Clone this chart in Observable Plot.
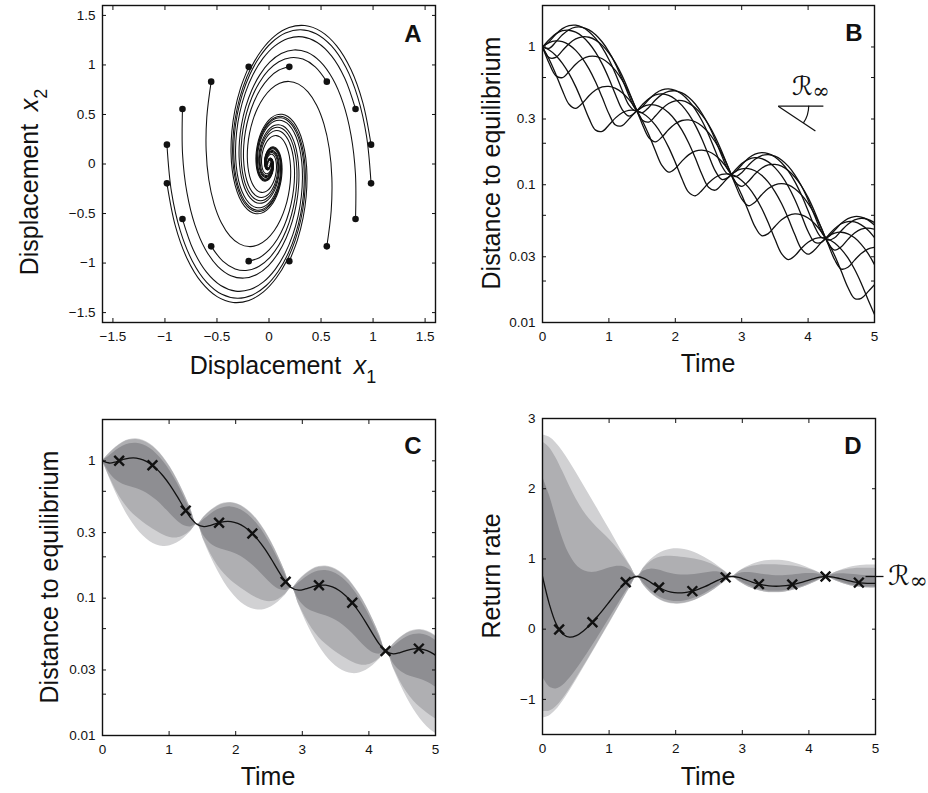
<!DOCTYPE html>
<html><head><meta charset="utf-8">
<script src="https://cdn.jsdelivr.net/npm/d3@7"></script>
<script src="https://cdn.jsdelivr.net/npm/@observablehq/plot@0.6"></script>
<style>
body{margin:0;background:#fff;}
#wrap{position:relative;width:928px;height:793px;overflow:hidden;background:#fff;}
</style></head><body><div id="wrap"></div>
<script>
// ---------------- DATA ----------------
// Panel A/B: 8 trajectories from the right-hand starting points (t = 0..5 step 0.1)
const tTraj = [0,0.1,0.2,0.3,0.4,0.5,0.6,0.7,0.8,0.9,1,1.1,1.2,1.3,1.4,1.5,1.6,1.7,1.8,1.9,2,2.1,2.2,2.3,2.4,2.5,2.6,2.7,2.8,2.9,3,3.1,3.2,3.3,3.4,3.5,3.6,3.7,3.8,3.9,4,4.1,4.2,4.3,4.4,4.5,4.6,4.7,4.8,4.9,5];
const trajX = [
[0.1951,0.2736,0.3275,0.3573,0.3649,0.3532,0.3253,0.2849,0.2358,0.1817,0.1259,0.0716,0.0212,-0.0232,-0.0603,-0.0891,-0.1095,-0.1215,-0.1257,-0.1230,-0.1145,-0.1014,-0.0850,-0.0666,-0.0475,-0.0286,-0.0108,0.0049,0.0182,0.0288,0.0364,0.0412,0.0432,0.0427,0.0402,0.0360,0.0306,0.0243,0.0178,0.0112,0.0050,-0.0006,-0.0054,-0.0092,-0.0121,-0.0139,-0.0148,-0.0148,-0.0141,-0.0127,-0.0109],
[0.5556,0.5977,0.6040,0.5789,0.5281,0.4579,0.3744,0.2836,0.1913,0.1021,0.0202,-0.0513,-0.1102,-0.1554,-0.1864,-0.2038,-0.2085,-0.2020,-0.1862,-0.1633,-0.1353,-0.1045,-0.0727,-0.0416,-0.0128,0.0127,0.0339,0.0506,0.0623,0.0693,0.0718,0.0703,0.0655,0.0581,0.0488,0.0383,0.0274,0.0166,0.0065,-0.0026,-0.0103,-0.0163,-0.0207,-0.0235,-0.0247,-0.0244,-0.0230,-0.0207,-0.0175,-0.0140,-0.0103],
[0.8315,0.8309,0.7885,0.7123,0.6109,0.4928,0.3664,0.2391,0.1175,0.0070,-0.0885,-0.1663,-0.2249,-0.2639,-0.2842,-0.2874,-0.2757,-0.2517,-0.2185,-0.1788,-0.1357,-0.0917,-0.0492,-0.0102,0.0239,0.0520,0.0736,0.0885,0.0969,0.0992,0.0962,0.0888,0.0780,0.0646,0.0500,0.0349,0.0200,0.0062,-0.0059,-0.0160,-0.0239,-0.0296,-0.0329,-0.0342,-0.0335,-0.0312,-0.0277,-0.0233,-0.0183,-0.0131,-0.0079],
[0.9808,0.9375,0.8530,0.7373,0.6006,0.4528,0.3027,0.1582,0.0259,-0.0892,-0.1838,-0.2560,-0.3052,-0.3323,-0.3387,-0.3273,-0.3010,-0.2632,-0.2174,-0.1670,-0.1153,-0.0649,-0.0183,0.0227,0.0569,0.0834,0.1021,0.1130,0.1168,0.1141,0.1060,0.0937,0.0784,0.0613,0.0435,0.0260,0.0096,-0.0050,-0.0173,-0.0270,-0.0340,-0.0383,-0.0401,-0.0397,-0.0373,-0.0333,-0.0282,-0.0224,-0.0163,-0.0102,-0.0044],
[0.9808,0.9014,0.7877,0.6501,0.4989,0.3438,0.1929,0.0533,-0.0696,-0.1718,-0.2511,-0.3067,-0.3392,-0.3500,-0.3417,-0.3174,-0.2805,-0.2346,-0.1832,-0.1298,-0.0774,-0.0283,0.0154,0.0522,0.0813,0.1022,0.1150,0.1203,0.1188,0.1116,0.0996,0.0844,0.0670,0.0487,0.0304,0.0132,-0.0022,-0.0155,-0.0261,-0.0339,-0.0389,-0.0412,-0.0412,-0.0391,-0.0353,-0.0302,-0.0244,-0.0181,-0.0118,-0.0058,-0.0003],
[0.8315,0.7281,0.6023,0.4638,0.3213,0.1824,0.0536,-0.0599,-0.1545,-0.2282,-0.2802,-0.3108,-0.3215,-0.3145,-0.2926,-0.2591,-0.2172,-0.1702,-0.1212,-0.0729,-0.0276,0.0127,0.0468,0.0738,0.0933,0.1054,0.1104,0.1093,0.1028,0.0920,0.0781,0.0622,0.0454,0.0286,0.0128,-0.0015,-0.0138,-0.0237,-0.0309,-0.0356,-0.0378,-0.0379,-0.0360,-0.0326,-0.0280,-0.0226,-0.0169,-0.0111,-0.0055,-0.0005,0.0039],
[0.5556,0.4439,0.3254,0.2071,0.0948,-0.0067,-0.0936,-0.1638,-0.2159,-0.2499,-0.2666,-0.2675,-0.2549,-0.2312,-0.1990,-0.1614,-0.1209,-0.0800,-0.0407,-0.0048,0.0263,0.0517,0.0710,0.0841,0.0910,0.0925,0.0890,0.0816,0.0711,0.0585,0.0447,0.0305,0.0168,0.0042,-0.0069,-0.0161,-0.0232,-0.0282,-0.0310,-0.0319,-0.0311,-0.0288,-0.0254,-0.0211,-0.0164,-0.0116,-0.0068,-0.0024,0.0016,0.0050,0.0075],
[0.1951,0.0921,-0.0011,-0.0813,-0.1463,-0.1948,-0.2267,-0.2428,-0.2445,-0.2335,-0.2125,-0.1835,-0.1494,-0.1126,-0.0751,-0.0391,-0.0062,0.0225,0.0460,0.0640,0.0761,0.0829,0.0845,0.0816,0.0750,0.0655,0.0541,0.0415,0.0286,0.0161,0.0044,-0.0057,-0.0142,-0.0209,-0.0255,-0.0282,-0.0291,-0.0285,-0.0264,-0.0234,-0.0195,-0.0152,-0.0108,-0.0064,-0.0024,0.0013,0.0043,0.0067,0.0085,0.0096,0.0101]
];
const trajY = [
[-0.9808,-0.7668,-0.5441,-0.3249,-0.1199,0.0625,0.2164,0.3380,0.4257,0.4796,0.5019,0.4959,0.4656,0.4163,0.3527,0.2803,0.2039,0.1278,0.0559,-0.0088,-0.0640,-0.1083,-0.1411,-0.1621,-0.1720,-0.1719,-0.1632,-0.1474,-0.1265,-0.1021,-0.0759,-0.0496,-0.0244,-0.0015,0.0183,0.0344,0.0465,0.0546,0.0588,0.0595,0.0571,0.0521,0.0452,0.0370,0.0281,0.0190,0.0102,0.0021,-0.0050,-0.0108,-0.0153],
[-0.8315,-0.4714,-0.1377,0.1565,0.4017,0.5926,0.7271,0.8063,0.8338,0.8154,0.7587,0.6716,0.5628,0.4409,0.3136,0.1884,0.0711,-0.0334,-0.1216,-0.1916,-0.2420,-0.2733,-0.2865,-0.2834,-0.2665,-0.2385,-0.2023,-0.1611,-0.1175,-0.0740,-0.0328,0.0042,0.0358,0.0614,0.0801,0.0923,0.0982,0.0983,0.0934,0.0844,0.0725,0.0586,0.0437,0.0287,0.0143,0.0012,-0.0102,-0.0194,-0.0264,-0.0311,-0.0336],
[-0.5556,-0.1041,0.2896,0.6140,0.8623,1.0326,1.1271,1.1518,1.1150,1.0272,0.9000,0.7451,0.5743,0.3984,0.2268,0.0679,-0.0724,-0.1895,-0.2808,-0.3452,-0.3832,-0.3967,-0.3883,-0.3615,-0.3202,-0.2687,-0.2107,-0.1502,-0.0905,-0.0346,0.0152,0.0573,0.0907,0.1148,0.1298,0.1362,0.1349,0.1269,0.1136,0.0966,0.0770,0.0562,0.0356,0.0159,-0.0017,-0.0169,-0.0290,-0.0380,-0.0439,-0.0467,-0.0468],
[-0.1951,0.2789,0.6729,0.9780,1.1916,1.3153,1.3555,1.3219,1.2265,1.0825,0.9042,0.7051,0.4983,0.2952,0.1055,-0.0631,-0.2050,-0.3168,-0.3971,-0.4462,-0.4660,-0.4596,-0.4310,-0.3846,-0.3253,-0.2579,-0.1870,-0.1164,-0.0499,0.0099,0.0610,0.1017,0.1317,0.1509,0.1598,0.1594,0.1511,0.1363,0.1167,0.0940,0.0697,0.0452,0.0220,0.0007,-0.0175,-0.0323,-0.0434,-0.0508,-0.0547,-0.0552,-0.0529],
[0.1951,0.6195,0.9537,1.1932,1.3393,1.3977,1.3776,1.2909,1.1512,0.9731,0.7707,0.5578,0.3464,0.1471,-0.0320,-0.1844,-0.3063,-0.3959,-0.4530,-0.4794,-0.4780,-0.4526,-0.4080,-0.3491,-0.2808,-0.2080,-0.1347,-0.0649,-0.0016,0.0531,0.0973,0.1306,0.1527,0.1639,0.1654,0.1584,0.1443,0.1249,0.1020,0.0770,0.0518,0.0274,0.0050,-0.0145,-0.0306,-0.0429,-0.0513,-0.0559,-0.0571,-0.0553,-0.0509],
[0.5556,0.8658,1.0894,1.2268,1.2833,1.2674,1.1899,1.0632,0.9007,0.7154,0.5200,0.3255,0.1418,-0.0235,-0.1645,-0.2777,-0.3611,-0.4147,-0.4399,-0.4395,-0.4170,-0.3767,-0.3230,-0.2605,-0.1937,-0.1263,-0.0620,-0.0035,0.0469,0.0881,0.1190,0.1397,0.1504,0.1521,0.1459,0.1332,0.1155,0.0945,0.0717,0.0484,0.0259,0.0053,-0.0127,-0.0276,-0.0390,-0.0469,-0.0513,-0.0525,-0.0508,-0.0469,-0.0412],
[0.8315,0.9804,1.0591,1.0735,1.0319,0.9442,0.8210,0.6738,0.5131,0.3490,0.1901,0.0438,-0.0844,-0.1903,-0.2720,-0.3286,-0.3608,-0.3703,-0.3599,-0.3328,-0.2927,-0.2435,-0.1888,-0.1322,-0.0769,-0.0255,0.0201,0.0584,0.0884,0.1097,0.1225,0.1275,0.1253,0.1170,0.1041,0.0877,0.0692,0.0497,0.0305,0.0124,-0.0037,-0.0175,-0.0285,-0.0365,-0.0415,-0.0437,-0.0435,-0.0411,-0.0369,-0.0315,-0.0252],
[0.9808,0.9455,0.8676,0.7568,0.6233,0.4771,0.3272,0.1817,0.0473,-0.0707,-0.1688,-0.2446,-0.2976,-0.3283,-0.3381,-0.3295,-0.3056,-0.2696,-0.2250,-0.1754,-0.1238,-0.0731,-0.0258,0.0161,0.0514,0.0793,0.0992,0.1113,0.1163,0.1147,0.1074,0.0958,0.0810,0.0641,0.0464,0.0288,0.0123,-0.0026,-0.0153,-0.0255,-0.0329,-0.0376,-0.0399,-0.0398,-0.0377,-0.0339,-0.0291,-0.0234,-0.0173,-0.0112,-0.0054]
];

// Panels C/D: time grid and envelope values
const tGrid = [0,0.1015,0.2031,0.3046,0.4062,0.5077,0.6092,0.7108,0.8123,0.9138,1.0154,1.1169,1.2185,1.3200,1.4215,1.5231,1.6246,1.7262,1.8277,1.9292,2.0308,2.1323,2.2338,2.3354,2.4369,2.5385,2.6400,2.7415,2.8431,2.9446,3.0462,3.1477,3.2492,3.3508,3.4523,3.5538,3.6554,3.7569,3.8585,3.9600,4.0615,4.1631,4.2646,4.3662,4.4677,4.5692,4.6708,4.7723,4.8738,4.9754,5.0769];
const cMin = [1,0.75744,0.58363,0.46284,0.37978,0.32286,0.28423,0.25896,0.24408,0.23808,0.24049,0.25168,0.27252,0.30372,0.34434,0.26081,0.20097,0.15937,0.13077,0.11117,0.09787,0.08917,0.08405,0.08198,0.08281,0.08666,0.09384,0.10458,0.11857,0.08981,0.06920,0.05488,0.04503,0.03828,0.03370,0.03070,0.02894,0.02823,0.02851,0.02984,0.03231,0.03601,0.04083,0.03092,0.02383,0.01890,0.01551,0.01318,0.01160,0.01057,0.00997];
const cQ10 = [1,0.76885,0.60939,0.50476,0.43689,0.39099,0.35709,0.32968,0.30664,0.28832,0.27665,0.27447,0.28455,0.30830,0.34434,0.26474,0.20983,0.17381,0.15044,0.13463,0.12296,0.11352,0.10559,0.09928,0.09526,0.09451,0.09798,0.10616,0.11857,0.09116,0.07225,0.05985,0.05180,0.04636,0.04234,0.03909,0.03636,0.03419,0.03280,0.03254,0.03374,0.03655,0.04083,0.03139,0.02488,0.02061,0.01784,0.01596,0.01458,0.01346,0.01252];
const cQ25 = [1,0.82337,0.72424,0.67601,0.65064,0.62873,0.60035,0.56229,0.51553,0.46363,0.41200,0.36759,0.33818,0.33016,0.34434,0.28352,0.24938,0.23277,0.22404,0.21649,0.20672,0.19362,0.17752,0.15964,0.14187,0.12657,0.11645,0.11369,0.11857,0.09763,0.08587,0.08015,0.07714,0.07455,0.07118,0.06667,0.06113,0.05497,0.04885,0.04358,0.04010,0.03915,0.04083,0.03362,0.02957,0.02760,0.02656,0.02567,0.02451,0.02296,0.02105];
const cMed = [1,0.96411,0.98414,1.02130,1.04744,1.04786,1.01759,0.95791,0.87383,0.77270,0.66327,0.55535,0.45954,0.38659,0.34434,0.33198,0.33887,0.35167,0.36067,0.36082,0.35039,0.32984,0.30089,0.26607,0.22839,0.19123,0.15824,0.13312,0.11857,0.11431,0.11669,0.12109,0.12419,0.12424,0.12065,0.11358,0.10361,0.09162,0.07864,0.06585,0.05449,0.04584,0.04083,0.03936,0.04018,0.04170,0.04276,0.04278,0.04155,0.03911,0.03568];
const cQ75 = [1,1.08678,1.18850,1.27637,1.33077,1.34190,1.30789,1.23247,1.12311,0.98953,0.84268,0.69405,0.55496,0.43578,0.34434,0.37422,0.40924,0.43950,0.45823,0.46206,0.45035,0.42438,0.38673,0.34073,0.29017,0.23899,0.19109,0.15005,0.11857,0.12886,0.14092,0.15134,0.15779,0.15911,0.15507,0.14613,0.13316,0.11733,0.09991,0.08229,0.06580,0.05167,0.04083,0.04437,0.04852,0.05211,0.05433,0.05479,0.05340,0.05032,0.04585];
const cQ90 = [1,1.12601,1.25128,1.35326,1.41541,1.42938,1.39408,1.31396,1.19713,1.05404,0.89628,0.73586,0.58428,0.45151,0.34434,0.38773,0.43086,0.46598,0.48738,0.49219,0.48003,0.45244,0.41221,0.36294,0.30862,0.25338,0.20119,0.15547,0.11857,0.13351,0.14836,0.16045,0.16782,0.16948,0.16529,0.15579,0.14194,0.12497,0.10627,0.08725,0.06928,0.05353,0.04083,0.04597,0.05109,0.05525,0.05779,0.05836,0.05692,0.05365,0.04888];
const cMax = [1,1.13371,1.26350,1.36817,1.43179,1.44630,1.41074,1.32970,1.21144,1.06651,0.90665,0.74397,0.58999,0.45460,0.34434,0.39038,0.43507,0.47111,0.49302,0.49801,0.48577,0.45786,0.41714,0.36724,0.31219,0.25618,0.20315,0.15654,0.11857,0.13442,0.14981,0.16222,0.16976,0.17148,0.16727,0.15766,0.14364,0.12645,0.10750,0.08821,0.06995,0.05390,0.04083,0.04629,0.05159,0.05586,0.05846,0.05905,0.05760,0.05429,0.04946];

const dLo  = [-1.2663,-1.2360,-1.1517,-1.0290,-0.8837,-0.7269,-0.5648,-0.4009,-0.2361,-0.0705,0.0965,0.2648,0.4331,0.5972,0.75,0.6176,0.5123,0.4361,0.3870,0.3614,0.3556,0.3664,0.3914,0.4290,0.4777,0.5365,0.6037,0.6765,0.75,0.6815,0.6232,0.5778,0.5458,0.5262,0.5180,0.5198,0.5309,0.5504,0.5780,0.6132,0.6549,0.7016,0.75,0.7038,0.6636,0.6314,0.6079,0.5929,0.5856,0.5856,0.5922];
const dQ10 = [-1.1676,-1.1688,-1.1038,-0.9931,-0.8554,-0.7037,-0.5453,-0.3842,-0.2215,-0.0576,0.1079,0.2746,0.4410,0.6024,0.75,0.6221,0.5183,0.4424,0.3933,0.3675,0.3614,0.3720,0.3967,0.4340,0.4824,0.5408,0.6074,0.6789,0.75,0.6838,0.6264,0.5813,0.5493,0.5298,0.5214,0.5232,0.5341,0.5536,0.5810,0.6159,0.6573,0.7032,0.75,0.7054,0.6657,0.6338,0.6104,0.5954,0.5881,0.5880,0.5946];
const dQ25 = [-0.6758,-0.8196,-0.8503,-0.8011,-0.7036,-0.5793,-0.4406,-0.2941,-0.1429,0.0115,0.1686,0.3270,0.4833,0.6293,0.75,0.6454,0.5500,0.4763,0.4270,0.4002,0.3928,0.4020,0.4253,0.4610,0.5077,0.5639,0.6269,0.6919,0.75,0.6959,0.6433,0.5999,0.5683,0.5486,0.5399,0.5412,0.5516,0.5704,0.5970,0.6307,0.6700,0.7117,0.75,0.7135,0.6773,0.6466,0.6236,0.6086,0.6012,0.6009,0.6071];
const dMed = [0.75,0.3600,0.0788,-0.0692,-0.1141,-0.0921,-0.0286,0.0605,0.1660,0.2822,0.4044,0.5266,0.6381,0.7200,0.75,0.7240,0.6661,0.6054,0.5580,0.5284,0.5164,0.5202,0.5377,0.5669,0.6060,0.6517,0.6984,0.7356,0.75,0.7366,0.7053,0.6707,0.6420,0.6224,0.6126,0.6121,0.6202,0.6362,0.6590,0.6870,0.7164,0.7405,0.75,0.7409,0.7195,0.6954,0.6749,0.6604,0.6527,0.6515,0.6566];
const dQ75 = [2.1758,1.9141,1.5887,1.2854,1.0582,0.9140,0.8375,0.8100,0.8157,0.8411,0.8733,0.8960,0.8898,0.8396,0.75,0.8276,0.8548,0.8445,0.8185,0.7932,0.7763,0.7700,0.7739,0.7857,0.8014,0.8143,0.8145,0.7931,0.75,0.7901,0.8059,0.8018,0.7885,0.7749,0.7655,0.7620,0.7646,0.7722,0.7825,0.7912,0.7919,0.7784,0.75,0.7771,0.7881,0.7857,0.7768,0.7675,0.7609,0.7586,0.7605];
const dQ90 = [2.6676,2.5887,2.4390,2.2444,2.0388,1.8497,1.6903,1.5612,1.4552,1.3609,1.2655,1.1576,1.0315,0.8914,0.75,0.8726,0.9611,1.0137,1.0364,1.0394,1.0321,1.0204,1.0064,0.9891,0.9648,0.9293,0.8799,0.8181,0.75,0.8134,0.8626,0.8946,0.9111,0.9166,0.9159,0.9122,0.9067,0.8986,0.8857,0.8650,0.8345,0.7949,0.75,0.7928,0.8268,0.8496,0.8621,0.8670,0.8675,0.8659,0.8628];
const dHi  = [2.7663,2.7360,2.6517,2.5290,2.3837,2.2269,2.0648,1.9009,1.7361,1.5705,1.4035,1.2352,1.0670,0.9028,0.75,0.8824,0.9877,1.0640,1.1131,1.1386,1.1445,1.1336,1.1086,1.0711,1.0223,0.9635,0.8963,0.8236,0.75,0.8185,0.8768,0.9222,0.9542,0.9738,0.9820,0.9802,0.9691,0.9496,0.9220,0.8869,0.8451,0.7984,0.75,0.7962,0.8364,0.8686,0.8921,0.9071,0.9144,0.9144,0.9078];

const markerT = [0.25,0.75,1.25,1.75,2.25,2.75,3.25,3.75,4.25,4.75];
const markerC = [1.0012,0.9279,0.4340,0.3544,0.2956,0.1315,0.1242,0.0925,0.0413,0.0429];
const markerD = [-0.0047,0.0998,0.6678,0.5928,0.5416,0.7378,0.6418,0.6349,0.7498,0.6630];

const rInf = 0.75;                        // asymptotic return rate
const slopeOrigin = {t: 3.55, d: 0.372};  // B: slope glyph
const slopeEnd    = {t: 4.11, d: 0.245};
const slopeFlatEnd = 4.23;
const rInfTick = {t1: 4.85, t2: 5.12};    // D: marker beside the axis

// tick labels
const ticksA = [-1.5,-1,-0.5,0,0.5,1,1.5];
const ticksTime = [0,1,2,3,4,5];
const ticksLog = [0.01,0.03,0.1,0.3,1];
const ticksLogMinor = [0.02,0.06,0.2,0.6];
const ticksRate = [-1,0,1,2,3];

// ---------------- DRAWING ----------------
const W = 928, H = 793;
const FONT = '"Liberation Sans", Arial, Helvetica, sans-serif';
const INK = "#111";
const LIGHT = "#d1d1d3", MEDIUM = "#afafb2", DARK = "#8e8e92";
const wrap = document.getElementById("wrap");
const fmt = d => d < 0 ? "\u2212" + String(Math.abs(d)) : String(d);

function frameAxes(xT, yT, xAll = xT, yAll = yT) {
  const blank = () => "";
  return [
    Plot.frame({stroke: INK, strokeWidth: 1.4}),
    Plot.axisX(xAll, {anchor: "bottom", tickSize: 4, dy: -4, tickFormat: blank, label: null, stroke: INK}),
    Plot.axisX(xAll, {anchor: "top", tickSize: 4, dy: 4, tickFormat: blank, label: null, stroke: INK}),
    Plot.axisY(yAll, {anchor: "left", tickSize: 4, dx: 4, tickFormat: blank, label: null, stroke: INK}),
    Plot.axisY(yAll, {anchor: "right", tickSize: 4, dx: -4, tickFormat: blank, label: null, stroke: INK}),
    Plot.axisX(xT, {anchor: "bottom", tickSize: 0, tickPadding: 9, tickFormat: fmt, fontSize: 13.5, label: null, fill: INK}),
    Plot.axisY(yT, {anchor: "left", tickSize: 0, tickPadding: 7, tickFormat: fmt, fontSize: 13.5, label: null, fill: INK})
  ];
}

function panel(box, x, y, marks) {
  const p = Plot.plot({
    width: W, height: H,
    marginLeft: box[0], marginRight: W - box[1], marginTop: box[2], marginBottom: H - box[3],
    x, y,
    style: {background: "transparent", fontFamily: FONT, overflow: "visible", maxWidth: "none"},
    marks
  });
  p.style.position = "absolute"; p.style.left = "0px"; p.style.top = "0px";
  wrap.appendChild(p);
  return p;
}

function label(svg, {x, y, rotate = 0, size = 25, weight = 400, family = FONT, subScale = 0.72, subShift = 0.36, parts}) {
  const t = d3.select(svg).append("text")
    .attr("transform", `translate(${x},${y}) rotate(${rotate})`)
    .attr("text-anchor", "middle").attr("font-size", size).attr("font-weight", weight)
    .attr("font-family", family).attr("fill", INK);
  for (const p of parts) {
    const s = t.append("tspan").text(p.text);
    if (p.italic) s.attr("font-style", "italic");
    if (p.sub) s.attr("font-size", size * subScale).attr("dy", size * subShift);
  }
  return t;
}

// Panel A
const trajRows = [];
const startRows = [];
for (let i = 0; i < trajX.length; i++) {
  const n = Math.min(tTraj.length, trajX[i].length, trajY[i].length);
  for (let k = 0; k < n; k++) {
    trajRows.push({id: i, t: tTraj[k], x: trajX[i][k], y: trajY[i][k]});
    // point-symmetric partner starting from the opposite dot
    trajRows.push({id: i + 8, t: tTraj[k], x: -trajX[i][k], y: -trajY[i][k]});
  }
  startRows.push({x: trajX[i][0], y: trajY[i][0]}, {x: -trajX[i][0], y: -trajY[i][0]});
}
const pA = panel([102, 435, 5, 322], {domain: [-1.6, 1.6]}, {domain: [-1.6, 1.6]}, [
  Plot.line(trajRows, {x: "x", y: "y", z: "id", stroke: INK, strokeWidth: 1.05, curve: "catmull-rom"}),
  Plot.dot(startRows, {x: "x", y: "y", r: 3.3, fill: INK}),
  ...frameAxes(ticksA, ticksA)
]);

// Panel B
const distRows = [];
for (let i = 0; i < trajX.length; i++) {
  const n = Math.min(tTraj.length, trajX[i].length, trajY[i].length);
  for (let k = 0; k < n; k++) distRows.push({id: i, t: tTraj[k], d: Math.hypot(trajX[i][k], trajY[i][k])});
}
const pB = panel([542, 874, 5, 322], {domain: [0, 5]}, {type: "log", domain: [0.01, 2]}, [
  Plot.line(distRows, {x: "t", y: "d", z: "id", stroke: INK, strokeWidth: 1.3, curve: "catmull-rom", clip: true}),
  Plot.link([{x1: slopeOrigin.t, y1: slopeOrigin.d, x2: slopeFlatEnd, y2: slopeOrigin.d},
             {x1: slopeOrigin.t, y1: slopeOrigin.d, x2: slopeEnd.t, y2: slopeEnd.d}],
            {x1: "x1", y1: "y1", x2: "x2", y2: "y2", stroke: INK, strokeWidth: 1.2}),
  ...frameAxes(ticksTime, ticksLog, ticksTime, ticksLog.concat(ticksLogMinor))
]);

// Panel C
const cRows = tGrid.map((t, i) => ({t, lo: cMin[i], q10: cQ10[i], q25: cQ25[i], med: cMed[i], q75: cQ75[i], q90: cQ90[i], hi: cMax[i]}));
const mC = markerT.map((t, i) => ({t, v: markerC[i]}));
const pC = panel([102, 435, 419, 735], {domain: [0, 5]}, {type: "log", domain: [0.01, 2]}, [
  Plot.areaY(cRows, {x: "t", y1: "lo", y2: "hi", fill: LIGHT, curve: "catmull-rom", clip: true}),
  Plot.areaY(cRows, {x: "t", y1: "q10", y2: "q90", fill: MEDIUM, curve: "catmull-rom", clip: true}),
  Plot.areaY(cRows, {x: "t", y1: "q25", y2: "q75", fill: DARK, curve: "catmull-rom", clip: true}),
  Plot.line(cRows, {x: "t", y: "med", stroke: INK, strokeWidth: 1.3, curve: "catmull-rom", clip: true}),
  Plot.dot(mC, {x: "t", y: "v", symbol: "times", r: 4.5, stroke: INK, strokeWidth: 2.4}),
  ...frameAxes(ticksTime, ticksLog, ticksTime, ticksLog.concat(ticksLogMinor))
]);

// Panel D
const dRows = tGrid.map((t, i) => ({t, lo: dLo[i], q10: dQ10[i], q25: dQ25[i], med: dMed[i], q75: dQ75[i], q90: dQ90[i], hi: dHi[i]}));
const mD = markerT.map((t, i) => ({t, v: markerD[i]}));
const pD = panel([542, 875, 418, 734], {domain: [0, 5]}, {domain: [-1.5, 3]}, [
  Plot.areaY(dRows, {x: "t", y1: "lo", y2: "hi", fill: LIGHT, curve: "catmull-rom", clip: true}),
  Plot.areaY(dRows, {x: "t", y1: "q10", y2: "q90", fill: MEDIUM, curve: "catmull-rom", clip: true}),
  Plot.areaY(dRows, {x: "t", y1: "q25", y2: "q75", fill: DARK, curve: "catmull-rom", clip: true}),
  Plot.line(dRows, {x: "t", y: "med", stroke: INK, strokeWidth: 1.3, curve: "catmull-rom", clip: true}),
  Plot.dot(mD, {x: "t", y: "v", symbol: "times", r: 4.5, stroke: INK, strokeWidth: 2.4}),
  Plot.link([{x1: rInfTick.t1, x2: rInfTick.t2, y: rInf}], {x1: "x1", x2: "x2", y1: "y", y2: "y", stroke: INK, strokeWidth: 1.3}),
  ...frameAxes(ticksTime, ticksRate)
]);

// ---- text labels ----
const SCRIPT = '"DejaVu Serif", "DejaVu Sans", serif';
label(pA, {x: 283, y: 374, parts: [{text: "Displacement\u2002"}, {text: "x", italic: true}, {text: "1", sub: true}]});
label(pA, {x: 38, y: 182, rotate: -90, parts: [{text: "Displacement\u2002"}, {text: "x", italic: true}, {text: "2", sub: true}]});
label(pB, {x: 708, y: 372, parts: [{text: "Time"}]});
label(pB, {x: 500, y: 163, rotate: -90, parts: [{text: "Distance to equilibrium"}]});
label(pC, {x: 268, y: 785, parts: [{text: "Time"}]});
label(pC, {x: 58, y: 577, rotate: -90, parts: [{text: "Distance to equilibrium"}]});
label(pD, {x: 708, y: 785, parts: [{text: "Time"}]});
label(pD, {x: 500, y: 576, rotate: -90, parts: [{text: "Return rate"}]});
label(pA, {x: 413, y: 42, size: 24, weight: 700, parts: [{text: "A"}]});
label(pB, {x: 854, y: 41, size: 24, weight: 700, parts: [{text: "B"}]});
label(pC, {x: 413, y: 454, size: 24, weight: 700, parts: [{text: "C"}]});
label(pD, {x: 853, y: 454, size: 24, weight: 700, parts: [{text: "D"}]});

// B: slope glyph arc and R-infinity label
{
  const sx = pB.scale("x"), sy = pB.scale("y");
  const X0 = sx.apply(slopeOrigin.t), Y0 = sy.apply(slopeOrigin.d);
  const X1 = sx.apply(slopeEnd.t), Y1 = sy.apply(slopeEnd.d);
  const a = Math.atan2(Y1 - Y0, X1 - X0), r = 31;
  d3.select(pB).append("path")
    .attr("d", `M${X0 + r},${Y0} A${r},${r} 0 0 1 ${X0 + r * Math.cos(a)},${Y0 + r * Math.sin(a)}`)
    .attr("fill", "none").attr("stroke", INK).attr("stroke-width", 1.2);
  label(pB, {x: sx.apply(4.05), y: Y0 - 11, size: 26, family: SCRIPT, subScale: 0.8, subShift: 0.12, parts: [{text: "\u211B"}, {text: "\u221E", sub: true}]});
}
// D: R-infinity label at the right edge
{
  const sy = pD.scale("y");
  label(pD, {x: 908, y: sy.apply(rInf) + 9, size: 27, family: SCRIPT, subScale: 0.8, subShift: 0.12, parts: [{text: "\u211B"}, {text: "\u221E", sub: true}]});
}
</script></body></html>
